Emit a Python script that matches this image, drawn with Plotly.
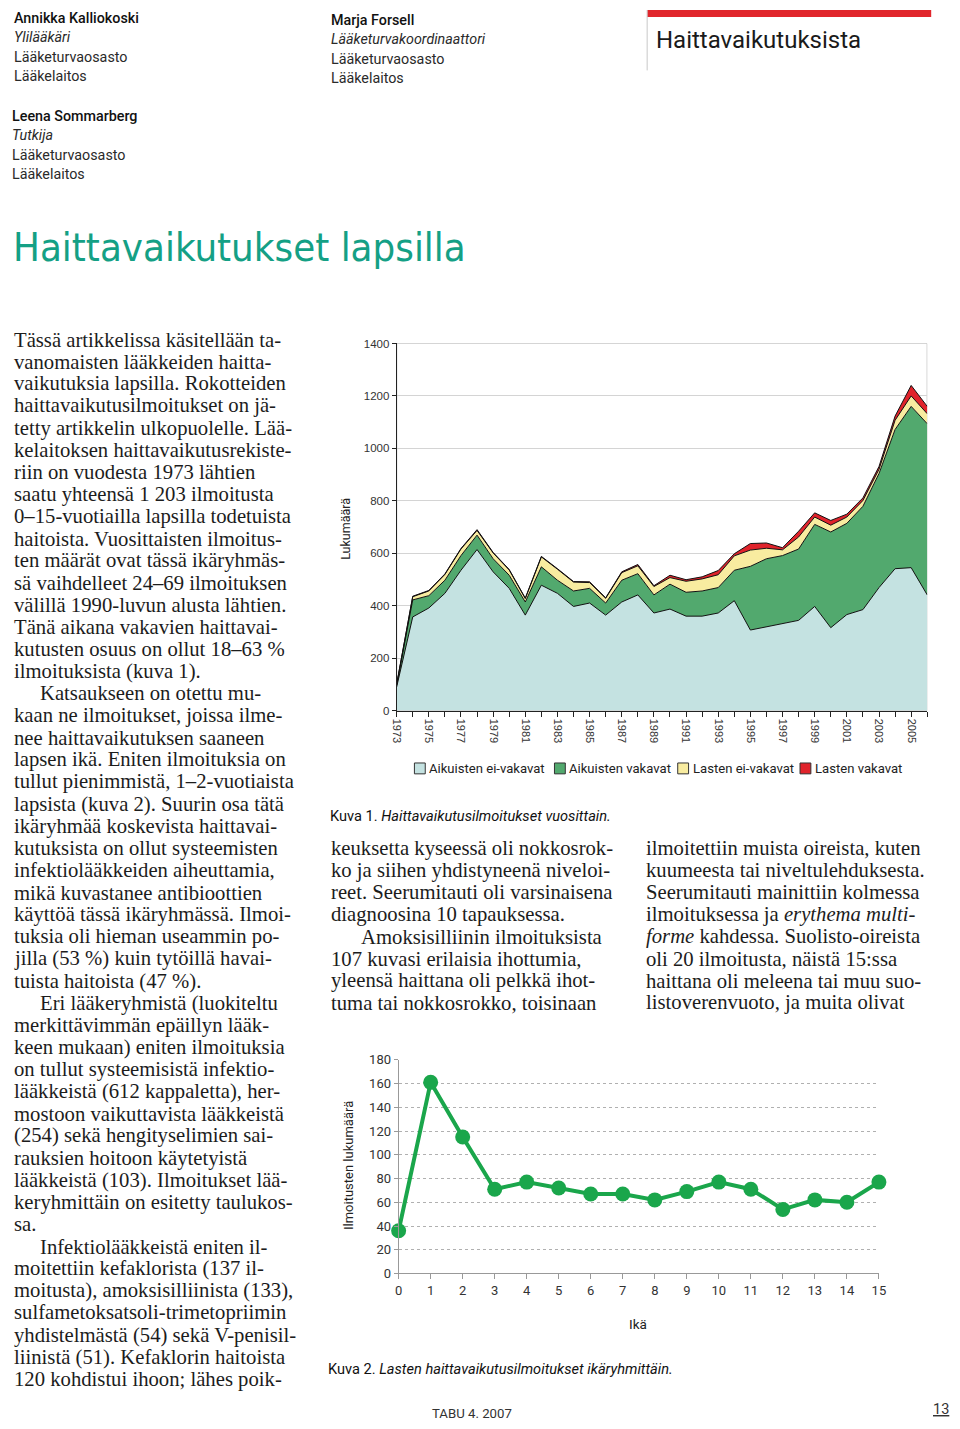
import plotly.graph_objects as go

# The page body keeps the browser's default 8px margin, so the figure is made
# 16px smaller than the window and every reference pixel position is shifted by 8.
PAGE_W, PAGE_H, BODY_M = 960, 1429, 8
W, H = PAGE_W - 2 * BODY_M, PAGE_H - 2 * BODY_M

# ---------------- data: figure 1 (reports per year) ----------------
years = list(range(1973, 2007))
aikuisten_ei_vakavat = [90, 357, 391, 447, 535, 614, 529, 466, 364, 478, 447, 397, 410, 364, 414, 441,
                        372, 387, 360, 360, 372, 419, 307, 320, 331, 344, 397, 316, 366, 385, 469, 541, 545, 441]
aikuisten_vakavat = [6, 65, 47, 50, 56, 55, 50, 50, 50, 70, 50, 59, 56, 46, 83, 81,
                     69, 95, 91, 96, 97, 116, 243, 259, 260, 272, 313, 365, 348, 394, 435, 531, 615, 653]
lasten_ei_vakavat = [4, 12, 18, 22, 25, 18, 22, 20, 13, 38, 42, 34, 22, 18, 29, 30,
                     32, 25, 42, 46, 49, 55, 62, 40, 22, 46, 28, 26, 24, 22, 16, 35, 40, 38]
lasten_vakavat = [0, 2, 2, 2, 2, 3, 2, 2, 2, 2, 2, 2, 3, 2, 3, 5,
                  3, 9, 6, 8, 16, 8, 25, 20, 8, 22, 16, 18, 11, 10, 11, 16, 40, 28]
series_names = ["Aikuisten ei-vakavat", "Aikuisten vakavat", "Lasten ei-vakavat", "Lasten vakavat"]
series_colors = ["#c4e2e1", "#52a96e", "#f8eca0", "#e0232b"]
year_labels = [str(y) if y % 2 == 1 else "" for y in years]

# ---------------- data: figure 2 (reports by age) ----------------
ages = list(range(0, 16))
age_counts = [36, 161, 115, 71, 77, 72, 67, 67, 62, 69, 77, 71, 54, 62, 60, 77]


def px(x):
    return (x - BODY_M) / W


def py(y):
    return 1 - (y - BODY_M) / H


fig = go.Figure()

series = [aikuisten_ei_vakavat, aikuisten_vakavat, lasten_ei_vakavat, lasten_vakavat]
for name, vals, col in zip(series_names, series, series_colors):
    fig.add_trace(go.Scatter(
        x=years, y=vals, name=name, stackgroup="one", mode="lines",
        line=dict(color="#111111", width=1), fillcolor=col,
        xaxis="x", yaxis="y", showlegend=False, hoverinfo="x+y+name"))

fig.add_trace(go.Scatter(
    x=ages, y=age_counts, mode="lines+markers", name="Ilmoitukset",
    line=dict(color="#1aa64b", width=4),
    marker=dict(color="#1aa64b", size=15),
    cliponaxis=False, xaxis="x2", yaxis="y2", showlegend=False))

TICKF = dict(family="Liberation Sans, Arial, sans-serif", size=11.5, color="#333333")
SANS = "Roboto, Noto Sans, sans-serif"

fig.update_layout(
    width=W, height=H, margin=dict(l=0, r=0, t=0, b=0),
    paper_bgcolor="white", plot_bgcolor="white",
    xaxis=dict(domain=[px(396), px(934)], range=[1973, 2006], anchor="y",
               tickmode="array", tickvals=years, ticktext=year_labels, tickangle=90,
               ticks="outside", ticklen=5, tickcolor="#222", showline=True,
               linecolor="#222", linewidth=1, showgrid=False, zeroline=False,
               tickfont=dict(family="Liberation Sans, Arial, sans-serif", size=11, color="#333")),
    yaxis=dict(domain=[py(711), py(340)], range=[0, 1400], dtick=200, anchor="x",
               showgrid=True, gridcolor="#d4d4d4", gridwidth=1, showline=True,
               linecolor="#222", linewidth=1, ticks="outside", ticklen=4, tickcolor="#222",
               zeroline=False, tickfont=TICKF),
    xaxis2=dict(domain=[px(398), px(885)], range=[0, 15], anchor="y2", dtick=1,
                ticks="outside", ticklen=5, tickcolor="#999", showline=True,
                linecolor="#999", linewidth=1, showgrid=False, zeroline=False,
                tickfont=dict(family=SANS, size=13, color="#333")),
    yaxis2=dict(domain=[py(1280), py(1064)], range=[0, 180], dtick=20, anchor="x2",
                showgrid=True, gridcolor="#b0b0b0", griddash="dot", gridwidth=1,
                showline=True, linecolor="#999", linewidth=1, ticks="outside",
                ticklen=4, tickcolor="#999", zeroline=False,
                tickfont=dict(family=SANS, size=13, color="#333")),
)

shapes = []
# frame of figure 1
shapes.append(dict(type="rect", xref="x", yref="y", x0=1973, x1=2006, y0=0, y1=1400,
                   line=dict(color="#a8a8a8", width=1), layer="below"))
# header red bar + grey rule
shapes.append(dict(type="rect", xref="paper", yref="paper", x0=px(650), x1=px(938),
                   y0=py(10), y1=py(3), fillcolor="#e1262c", line=dict(width=0)))
shapes.append(dict(type="line", xref="paper", yref="paper", x0=px(650), x1=px(650),
                   y0=py(64), y1=py(3), line=dict(color="#c8c8c8", width=1)))

annotations = []


def txt(x, y, text, size=14, family=SANS, color="#222", anchor="left", angle=0, weight="normal"):
    annotations.append(dict(xref="paper", yref="paper", x=px(x), y=py(y), text=text,
                            showarrow=False, xanchor=anchor, yanchor="middle", textangle=angle,
                            font=dict(size=size, family=family, color=color, weight=weight)))


# legend of figure 1 (drawn manually)
legend_pos = [(414, 428), (556, 570), (681, 695), (805, 819)]
for (sx, tx), name, col in zip(legend_pos, series_names, series_colors):
    shapes.append(dict(type="rect", xref="paper", yref="paper", x0=px(sx), x1=px(sx + 11),
                       y0=py(775), y1=py(764), fillcolor=col, line=dict(color="#333", width=1)))
    txt(tx - 1, 769.5, name, size=13.1, color="#222")

# header blocks
hdr1 = [("Annikka Kalliokoski", False), ("Ylilääkäri", True), ("Lääketurvaosasto", False), ("Lääkelaitos", False)]
hdr2 = [("Marja Forsell", False), ("Lääketurvakoordinaattori", True), ("Lääketurvaosasto", False), ("Lääkelaitos", False)]
hdr3 = [("Leena Sommarberg", False), ("Tutkija", True), ("Lääketurvaosasto", False), ("Lääkelaitos", False)]
for (x0, y0, block) in [(6, 11, hdr1), (327, 13, hdr2), (4, 110, hdr3)]:
    for i, (t, it) in enumerate(block):
        s = "<i>%s</i>" % t if it else t
        txt(x0, y0 + i * 19.6, s, size=14.3, color="#111" if i == 0 else "#2a2a2a",
            weight=500 if i == 0 else "normal")

txt(657, 33, "Haittavaikutuksista", size=24, color="#1a1a1a")
txt(5, 242, "Haittavaikutukset lapsilla", size=39.8,
    family="Liberation Sans Narrow, DejaVu Sans Condensed, Roboto, sans-serif", color="#14a085")

# axis titles and captions
txt(344, 527, "Lukumäärä", size=12.5, color="#222", anchor="center", angle=-90)
txt(347, 1171, "Ilmoitusten lukumäärä", size=13, color="#222", anchor="center", angle=-90)
txt(641, 1331, "Ikä", size=13.5, color="#222", anchor="center")
txt(326, 818, "Kuva 1. <i>Haittavaikutusilmoitukset vuosittain.</i>", size=14.6, color="#111")
txt(324, 1377, "Kuva 2. <i>Lasten haittavaikutusilmoitukset ikäryhmittäin.</i>", size=14.6, color="#111")
txt(430, 1422, "TABU 4. 2007", size=13.2, color="#333")
txt(958, 1417, "<u>13</u>", size=14.5, color="#333", anchor="right")

# body text (serif)
SERIF = "Liberation Serif, Times New Roman, serif"
left_col = [
    ("Tässä artikkelissa käsitellään ta-", 0), ("vanomaisten lääkkeiden haitta-", 0),
    ("vaikutuksia lapsilla. Rokotteiden", 0), ("haittavaikutusilmoitukset on jä-", 0),
    ("tetty artikkelin ulkopuolelle. Lää-", 0), ("kelaitoksen haittavaikutusrekiste-", 0),
    ("riin on vuodesta 1973 lähtien", 0), ("saatu yhteensä 1 203 ilmoitusta", 0),
    ("0–15-vuotiailla lapsilla todetuista", 0), ("haitoista. Vuosittaisten ilmoitus-", 0),
    ("ten määrät ovat tässä ikäryhmäs-", 0), ("sä vaihdelleet 24–69 ilmoituksen", 0),
    ("välillä 1990-luvun alusta lähtien.", 0), ("Tänä aikana vakavien haittavai-", 0),
    ("kutusten osuus on ollut 18–63 %", 0), ("ilmoituksista (kuva 1).", 0),
    ("Katsaukseen on otettu mu-", 1), ("kaan ne ilmoitukset, joissa ilme-", 0),
    ("nee haittavaikutuksen saaneen", 0), ("lapsen ikä. Eniten ilmoituksia on", 0),
    ("tullut pienimmistä, 1–2-vuotiaista", 0), ("lapsista (kuva 2). Suurin osa tätä", 0),
    ("ikäryhmää koskevista haittavai-", 0), ("kutuksista on ollut systeemisten", 0),
    ("infektiolääkkeiden aiheuttamia,", 0), ("mikä kuvastanee antibioottien", 0),
    ("käyttöä tässä ikäryhmässä. Ilmoi-", 0), ("tuksia oli hieman useammin po-", 0),
    ("jilla (53 %) kuin tytöillä havai-", 0), ("tuista haitoista (47 %).", 0),
    ("Eri lääkeryhmistä (luokiteltu", 1), ("merkittävimmän epäillyn lääk-", 0),
    ("keen mukaan) eniten ilmoituksia", 0), ("on tullut systeemisistä infektio-", 0),
    ("lääkkeistä (612 kappaletta), her-", 0), ("mostoon vaikuttavista lääkkeistä", 0),
    ("(254) sekä hengityselimien sai-", 0), ("rauksien hoitoon käytetyistä", 0),
    ("lääkkeistä (103). Ilmoitukset lää-", 0), ("keryhmittäin on esitetty taulukos-", 0),
    ("sa.", 0), ("Infektiolääkkeistä eniten il-", 1),
    ("moitettiin kefaklorista (137 il-", 0), ("moitusta), amoksisilliinista (133),", 0),
    ("sulfametoksatsoli-trimetopriimin", 0), ("yhdistelmästä (54) sekä V-penisil-", 0),
    ("liinistä (51). Kefaklorin haitoista", 0), ("120 kohdistui ihoon; lähes poik-", 0),
]
mid_col = [
    ("keuksetta kyseessä oli nokkosrok-", 0), ("ko ja siihen yhdistyneenä niveloi-", 0),
    ("reet. Seerumitauti oli varsinaisena", 0), ("diagnoosina 10 tapauksessa.", 0),
    ("Amoksisilliinin ilmoituksista", 1), ("107 kuvasi erilaisia ihottumia,", 0),
    ("yleensä haittana oli pelkkä ihot-", 0), ("tuma tai nokkosrokko, toisinaan", 0),
]
right_col = [
    ("ilmoitettiin muista oireista, kuten", 0), ("kuumeesta tai niveltulehduksesta.", 0),
    ("Seerumitauti mainittiin kolmessa", 0), ("ilmoituksessa ja <i>erythema multi-</i>", 0),
    ("<i>forme</i> kahdessa. Suolisto-oireista", 0), ("oli 20 ilmoitusta, näistä 15:ssa", 0),
    ("haittana oli meleena tai muu suo-", 0), ("listoverenvuoto, ja muita olivat", 0),
]
LS = 22.36
BODY = 20.7
for i, (t, ind) in enumerate(left_col):
    txt(6 + ind * 26, 336 + i * LS, t, size=BODY, family=SERIF, color="#1c1c1c")
for i, (t, ind) in enumerate(mid_col):
    txt(327 + ind * 31, 850 + i * LS, t, size=BODY, family=SERIF, color="#1c1c1c")
for i, (t, ind) in enumerate(right_col):
    txt(647 + ind * 31, 850 + i * LS, t, size=BODY, family=SERIF, color="#1c1c1c")

fig.update_layout(shapes=shapes, annotations=annotations)

fig.write_html("out.html", config={"displayModeBar": False})
